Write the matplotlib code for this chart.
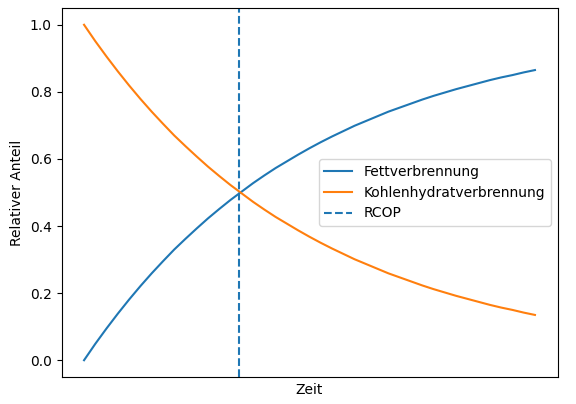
import matplotlib
matplotlib.use("Agg")
import matplotlib.pyplot as plt

# Werte
zeit = [0, 0.25, 0.5, 0.75, 1.0, 1.25, 1.5, 1.75, 2.0, 2.25, 2.5, 2.75, 3.0, 3.25,
        3.5, 3.75, 4.0, 4.25, 4.5, 4.75, 5.0, 5.25, 5.5, 5.75, 6.0, 6.25, 6.5,
        6.75, 7.0, 7.25, 7.5, 7.75, 8.0, 8.25, 8.5, 8.75, 9.0, 9.25, 9.5, 9.75, 10.0]
fett = [0.000, 0.049, 0.095, 0.139, 0.181, 0.221, 0.259, 0.295, 0.330, 0.362, 0.393,
        0.423, 0.451, 0.478, 0.503, 0.528, 0.551, 0.573, 0.593, 0.613, 0.632, 0.650,
        0.667, 0.683, 0.699, 0.713, 0.727, 0.741, 0.753, 0.765, 0.777, 0.788, 0.798,
        0.808, 0.817, 0.826, 0.835, 0.843, 0.850, 0.858, 0.865]
kohlenhydrate = [1.000, 0.951, 0.905, 0.861, 0.819, 0.779, 0.741, 0.705, 0.670, 0.638,
                 0.607, 0.577, 0.549, 0.522, 0.497, 0.472, 0.449, 0.427, 0.407, 0.387,
                 0.368, 0.350, 0.333, 0.317, 0.301, 0.287, 0.273, 0.259, 0.247, 0.235,
                 0.223, 0.212, 0.202, 0.192, 0.183, 0.174, 0.165, 0.157, 0.150, 0.142,
                 0.135]
rcop = 3.44

fig = plt.figure(figsize=(5.76, 4.04), dpi=100)
ax = fig.add_axes([61.5 / 576, 1 - 377 / 404, 496 / 576, 369 / 404])

ax.plot(zeit, fett, label="Fettverbrennung")
ax.plot(zeit, kohlenhydrate, label="Kohlenhydratverbrennung")
ax.axvline(rcop, linestyle="--", label="RCOP")

ax.set_xlabel("Zeit")
ax.set_ylabel("Relativer Anteil")
ax.set_xticks([])
ax.legend(loc="center right")

fig.savefig("out.png", dpi=100)
